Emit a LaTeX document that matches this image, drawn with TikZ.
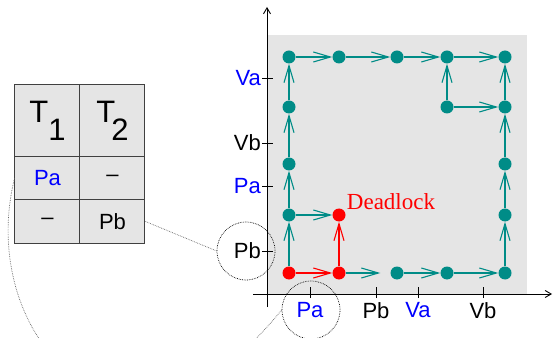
\documentclass[tikz,border=0pt]{standalone}
\usepackage{fontspec}
\setmainfont{Liberation Serif}
\setsansfont{Liberation Sans}
\usetikzlibrary{arrows.meta,positioning}

\definecolor{stateteal}{RGB}{0,140,135}
\definecolor{regiongray}{RGB}{229,229,229}

\tikzset{
  dot/.style={circle,fill=stateteal,inner sep=0pt,minimum size=13pt},
  dead/.style={dot,fill=red},
  move/.style={draw=stateteal,line width=1.1pt,-{Straight Barb[length=17pt,width=10pt]}},
  deadmove/.style={move,draw=red},
  axis/.style={draw,line width=0.9pt,-{Straight Barb[length=6pt,width=7pt]}},
  tick/.style={draw,line width=0.9pt},
  lbl/.style={font=\sffamily\fontsize{22}{22}\selectfont,inner sep=1pt},
  cell/.style={draw=black!75,line width=1pt,fill=regiongray,minimum width=65pt,
    minimum height=43pt,inner sep=0pt,font=\sffamily\fontsize{22}{22}\selectfont},
  head/.style={cell,minimum height=72pt,font=\sffamily\fontsize{31}{31}\selectfont},
  ring/.style={circle,draw,densely dotted,line width=0.7pt,minimum size=58pt,inner sep=0pt},
  link/.style={draw=black!60,densely dotted,line width=0.7pt}
}

\begin{document}
\begin{tikzpicture}[x=1pt,y=1pt]
\useasboundingbox (-267,-43) rectangle (286,294);
\clip (-267,-43) rectangle (286,294);

% progress region
\fill[regiongray] (0,0) rectangle (260,259);

% axes
\draw[axis] (0,-13) -- (0,287);
\draw[axis] (-14,0) -- (285,0);

% ticks on the vertical axis
\draw[tick] (-5,43) -- (6,43);
\draw[tick] (-5,108) -- (6,108);
\draw[tick] (-5,151) -- (6,151);
\draw[tick] (-5,216) -- (6,216);
\node[lbl,anchor=east] (ypb) at (-5,43) {Pb};
\node[lbl,anchor=east,text=blue] (ypa) at (-5,108) {Pa};
\node[lbl,anchor=east] (yvb) at (-5,151) {Vb};
\node[lbl,anchor=east,text=blue] (yva) at (-5,216) {Va};

% ticks on the horizontal axis
\draw[tick] (43,-4) -- (43,7);
\draw[tick] (109,-4) -- (109,7);
\draw[tick] (151,-4) -- (151,7);
\draw[tick] (216,-4) -- (216,7);
\node[lbl,anchor=north,text=blue] (xpa) at (43,-7) {Pa};
\node[lbl,anchor=north] (xpb) at (109,-7) {Pb};
\node[lbl,anchor=north,text=blue] (xva) at (151,-7) {Va};
\node[lbl,anchor=north] (xvb) at (216,-7) {Vb};

% states
\node[dead] (a1) at (22,21) {};
\node[dead] (b1) at (72,21) {};
\node[dot] (c1) at (130,21) {};
\node[dot] (d1) at (180,21) {};
\node[dot] (e1) at (238,21) {};
\node[dot] (a2) at (22,79) {};
\node[dead] (b2) at (72,79) {};
\node[dot] (e2) at (238,79) {};
\node[dot] (a3) at (22,130) {};
\node[dot] (e3) at (238,130) {};
\node[dot] (a4) at (22,187) {};
\node[dot] (d4) at (180,187) {};
\node[dot] (e4) at (238,187) {};
\node[dot] (a5) at (22,237) {};
\node[dot] (b5) at (72,237) {};
\node[dot] (c5) at (130,237) {};
\node[dot] (d5) at (180,237) {};
\node[dot] (e5) at (238,237) {};

\node[above right=0pt and 3pt of b2,inner sep=0pt,text=red,
  font=\fontsize{23}{23}\selectfont] (deadlock) {Deadlock};

% moves
\draw[move] (a1) -- (a2);
\draw[move] (a2) -- (a3);
\draw[move] (a3) -- (a4);
\draw[move] (a4) -- (a5);
\draw[move] (a5) -- (b5);
\draw[move] (b5) -- (c5);
\draw[move] (c5) -- (d5);
\draw[move] (d5) -- (e5);
\draw[move] (a2) -- (b2);
\draw[move,shorten >=10pt] (b1) -- (c1);
\draw[move] (c1) -- (d1);
\draw[move] (d1) -- (e1);
\draw[move] (e1) -- (e2);
\draw[move] (e2) -- (e3);
\draw[move] (e3) -- (e4);
\draw[move] (e4) -- (e5);
\draw[move] (d4) -- (d5);
\draw[move] (d4) -- (e4);
\draw[deadmove] (a1) -- (b1);
\draw[deadmove] (b1) -- (b2);

% schedule table
\node[head] (t1) at (-219.5,173) {T\raisebox{-18pt}{1}};
\node[head] (t2) at (-154.5,173) {T\kern-4pt\raisebox{-18pt}{2}};
\node[cell,text=blue] (pa1) at (-219.5,115.5) {Pa};
\node[cell] (none2) at (-154.5,115.5) {--};
\node[cell] (none1) at (-219.5,72.5) {--};
\node[cell] (pb2) at (-154.5,72.5) {Pb};

% zoom rings
\node[ring] (pbring) at (-21,43) {};
\node[ring] (paring) at (44,-16) {};
\draw[link] (pb2.east) -- (pbring.west);
\draw[link] (pa1.west) .. controls (-292,-43) and (-142,-209) .. (paring.west);
\end{tikzpicture}
\end{document}
